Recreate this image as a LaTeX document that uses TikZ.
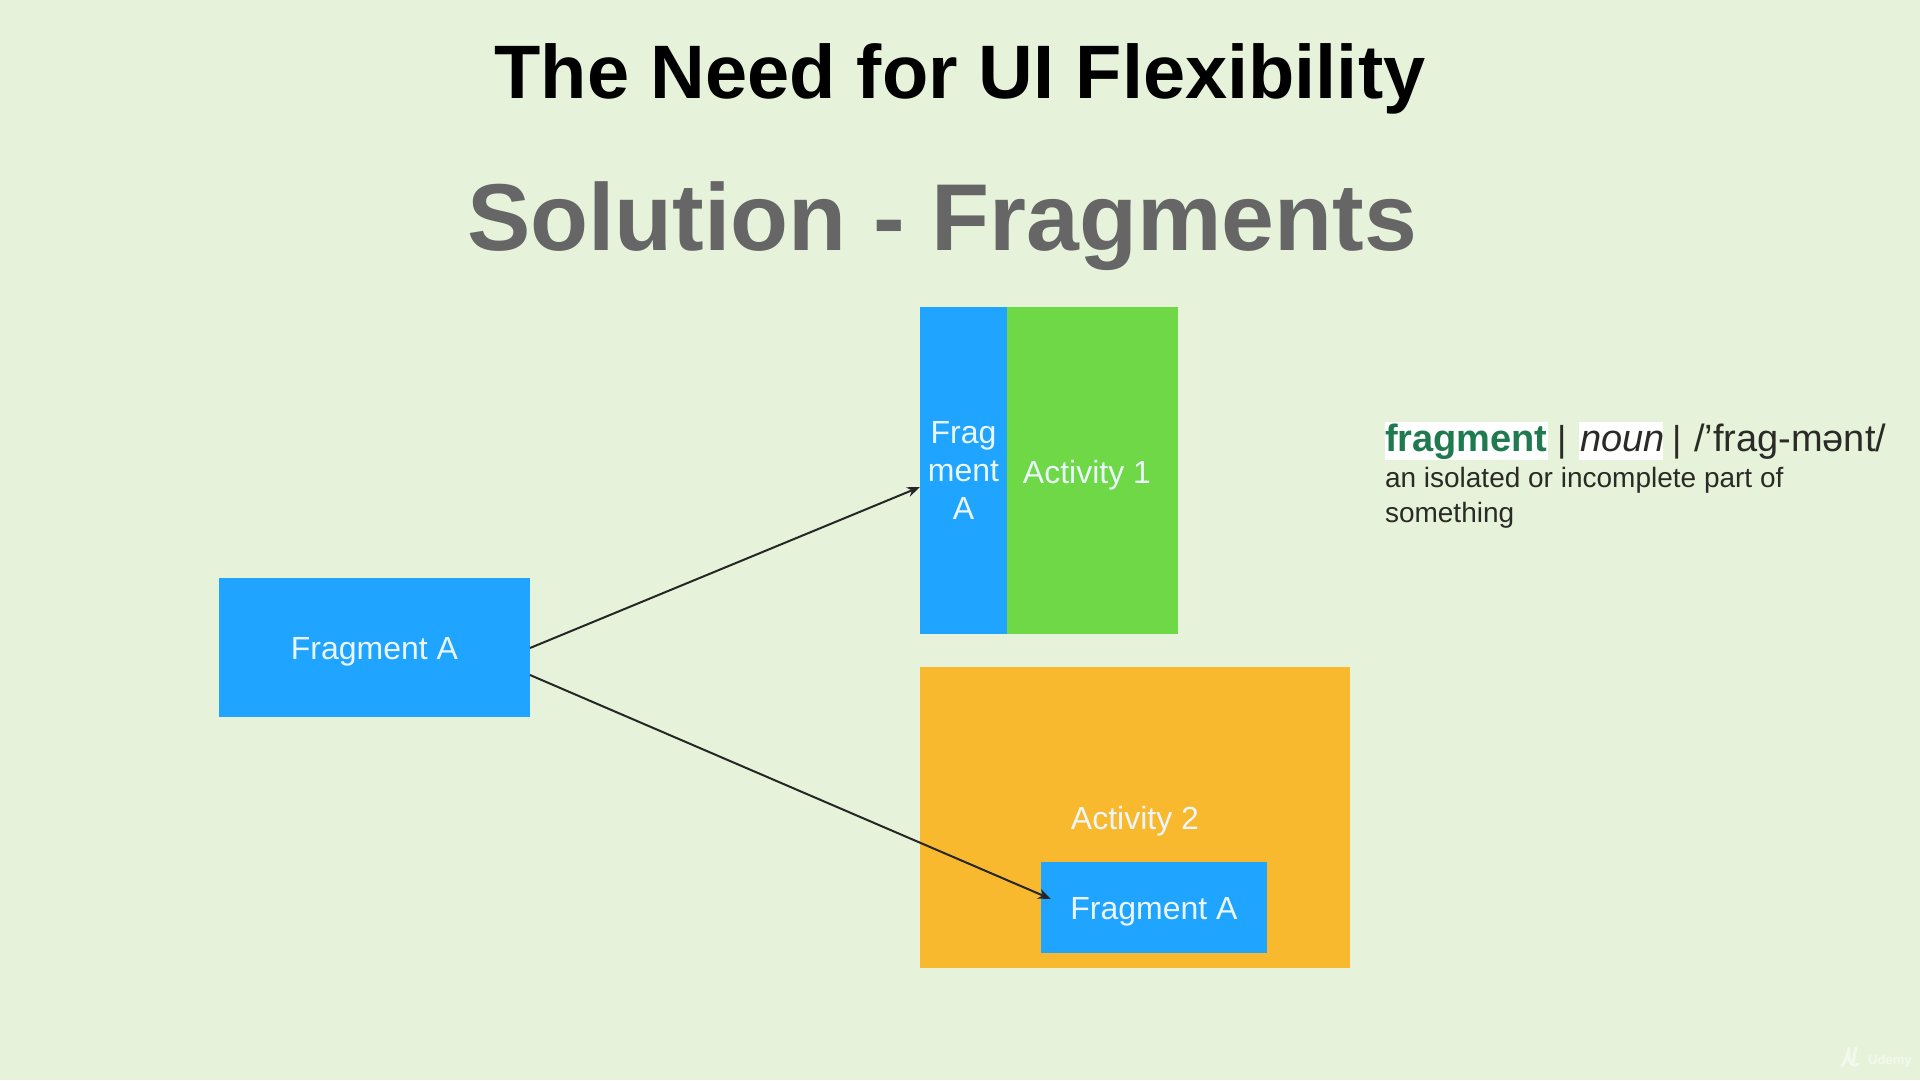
\documentclass[tikz,border=0pt]{standalone}
\usepackage{fontspec}
\setmainfont{Liberation Sans}
\usetikzlibrary{arrows.meta}
\definecolor{bgc}{HTML}{E7F2DA}
\definecolor{bluec}{HTML}{1FA4FF}
\definecolor{greenc}{HTML}{6FD846}
\definecolor{orangec}{HTML}{F8B92F}
\definecolor{grayt}{HTML}{666666}
\definecolor{greent}{HTML}{1F7A50}
\definecolor{labelc}{HTML}{EAF6FA}
\definecolor{deft}{HTML}{2A2A26}
\tikzset{
  boxn/.style={inner sep=0pt,outer sep=0pt,draw=none,text=labelc,align=center,font=\fontsize{32}{38}\selectfont},
  lowered/.style={text height=31pt,text depth=7pt},
  txt/.style={inner sep=0pt,outer sep=0pt,anchor=base west,text=deft},
  conn/.style={draw=black!85,line width=2pt,-{Stealth[length=13pt,width=10pt]}},
  hl/.style={fill=white,draw=none,inner sep=0pt,outer sep=0pt}
}
\begin{document}
\begin{tikzpicture}[x=1pt,y=-1pt]
\useasboundingbox (0,0) rectangle (1920,1080);
\fill[bgc] (0,0) rectangle (1920,1080);
\node[inner sep=0pt,font=\bfseries\fontsize{75.8}{80}\selectfont,text=black,anchor=base] (title) at (960,98) {The Need for UI Flexibility};
\node[inner sep=0pt,font=\bfseries\fontsize{95}{100}\selectfont,text=grayt,anchor=base] (sub) at (942,250) {Solution - Fragments};
\node[boxn,lowered,fill=bluec,minimum width=311pt,minimum height=139pt] (fa) at (374.5,647.5) {Fragment A};
\node[boxn,fill=greenc,minimum width=171pt,minimum height=327pt] (green) at (1092.5,470.5) {};
\node[boxn,fill=bluec,minimum width=87pt,minimum height=327pt] (blue) at (963.5,470.5) {Frag\\ment\\A};
\node[boxn,lowered] (act1) at (1087,471) {Activity 1};
\node[boxn,lowered,fill=orangec,minimum width=430pt,minimum height=301pt] (orange) at (1135,817.5) {Activity 2};
\node[boxn,lowered,fill=bluec,minimum width=226pt,minimum height=91pt] (inner) at (1154,907.5) {Fragment A};
\draw[conn] ([yshift=-0.5pt]fa.east) -- ([yshift=-16.5pt]blue.west);
\draw[conn] ([yshift=-27.5pt]fa.east) -- ([xshift=10pt,yshift=8.5pt]inner.west);
\fill[hl] (1385,422) rectangle (1548,460);
\fill[hl] (1579,422) rectangle (1663,460);
\node[txt,text=greent,font=\bfseries\fontsize{38}{40}\selectfont] (word) at (1385,451) {fragment};
\node[txt,font=\fontsize{36}{40}\selectfont] (bar1) at (1557,451) {|};
\node[txt,font=\itshape\fontsize{38}{40}\selectfont] (noun) at (1580,451) {noun};
\node[txt,font=\fontsize{36}{40}\selectfont] (bar2) at (1672,451) {|};
\node[txt,font=\fontsize{38}{40}\selectfont] (pron) at (1694,451) {/’frag-mənt/};
\node[txt,font=\fontsize{28}{30}\selectfont] (def1) at (1385,487) {an isolated or incomplete part of};
\node[txt,font=\fontsize{28}{30}\selectfont] (def2) at (1385,522) {something};
\node[inner sep=0pt,anchor=base west,text=white,opacity=.5,font=\bfseries\fontsize{13}{14}\selectfont] (wm) at (1868,1064) {Udemy};
\draw[white,opacity=.5,line width=3pt,line cap=round] (1842,1066) .. controls (1846,1060) and (1848,1054) .. (1849,1048) (1849,1052) .. controls (1848,1064) and (1854,1068) .. (1858,1064) (1853,1062) .. controls (1854,1056) and (1855,1052) .. (1856,1048);
\end{tikzpicture}
\end{document}
